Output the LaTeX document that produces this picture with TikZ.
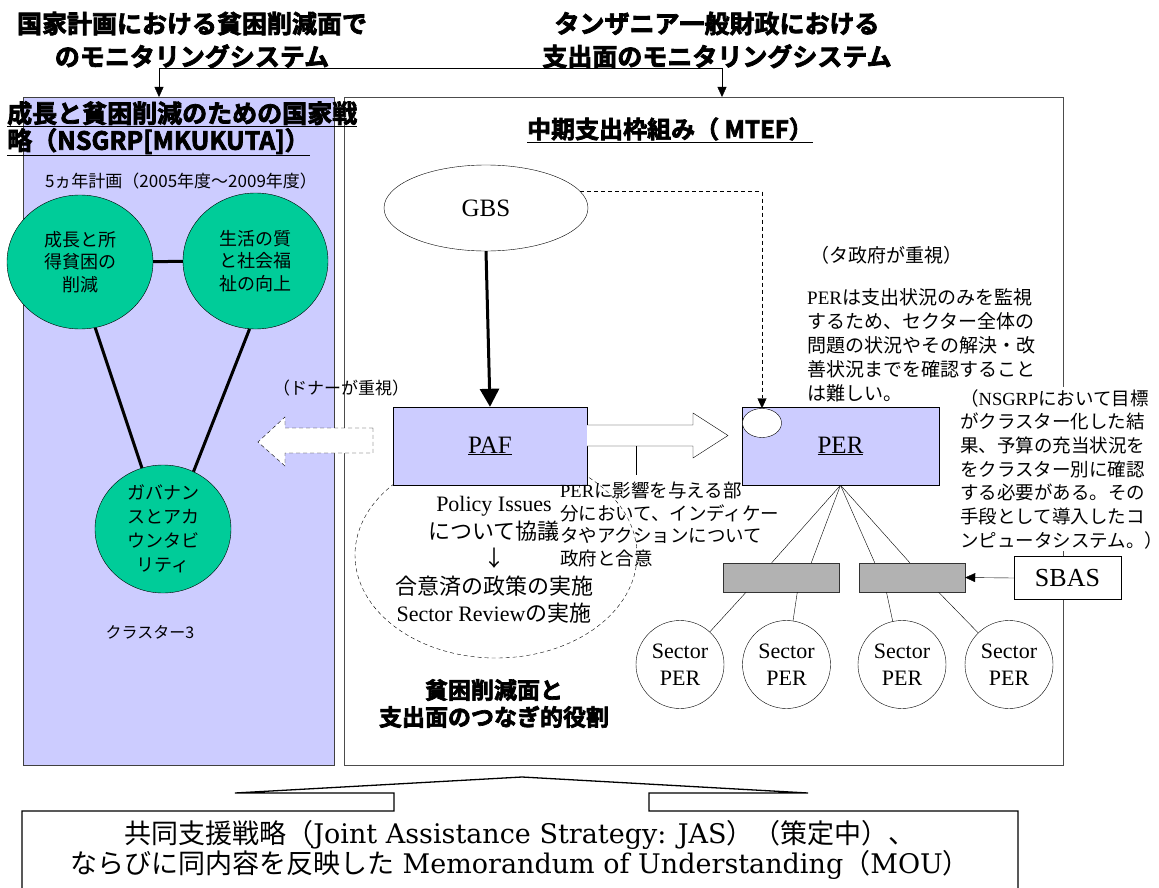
\documentclass[tikz,border=0pt]{standalone}
\usepackage{fontspec}
\newfontfamily\jp{Noto Sans CJK JP}
\newfontfamily\jpb{Noto Sans CJK JP Bold}[FakeBold=3]
\newfontfamily\tms{Liberation Serif}
\newfontfamily\dvs{DejaVu Serif}
\usetikzlibrary{arrows.meta,shapes.geometric,calc}
\definecolor{lav}{HTML}{CCCCFF}
\definecolor{cgreen}{HTML}{00CC99}
\definecolor{bgray}{HTML}{B2B2B2}
\newcommand\fsz[2]{\fontsize{#1}{#2}\selectfont}
\begin{document}
\begin{tikzpicture}[x=1pt,y=-1pt,
  tip/.style={-{Triangle[length=10pt,width=9pt]}},
  goal/.style={ellipse, draw=black, fill=cgreen, inner sep=0pt, align=center, font=\jp\fsz{18}{22.5}},
  box/.style={draw=black, inner sep=0pt},
  spc/.style={circle, draw=black, fill=white, minimum size=88pt, inner sep=0pt, align=center, font=\tms\fsz{22}{27}},
  bar/.style={draw=black!80, fill=bgray, minimum height=29pt, inner sep=0pt},
  dsh/.style={dash pattern=on 4pt off 3pt},
]
\fill[white] (0,0) rectangle (1159,888);
\useasboundingbox (0,0) rectangle (1159,888);

% titles
\node[font=\jpb\fsz{25}{33}, align=center, inner sep=0pt] (tl) at (192,40) {国家計画における貧困削減面で\\のモニタリングシステム};
\node[font=\jpb\fsz{25}{33}, align=center, inner sep=0pt] (tr) at (717,40) {タンザニア一般財政における\\支出面のモニタリングシステム};

% panels
\node[box, draw=black!75, fill=lav, minimum width=311pt, minimum height=668pt, anchor=north west] (lp) at (23,97) {};
\node[box, draw=black!70, line width=1pt, fill=white, minimum width=719pt, minimum height=668pt, anchor=north west] (mf) at (344,97) {};

\coordinate (jl) at (159,68);
\coordinate (jr) at (722,68);
\draw (jl) -- (jr);
\draw[tip] (jl) -- (jl |- lp.north);
\draw[tip] (jr) -- (jr |- mf.north);

% left panel content
\node[font=\jpb\fsz{25}{26}, align=left, inner sep=0pt, anchor=north west] (hd) at (7,101) {\underline{成長と貧困削減のための国家戦}\\\underline{略（NSGRP[MKUKUTA]）}};
\node[font=\jp\fsz{17}{20}, inner sep=0pt] (fy) at (181,181) {5ヵ年計画（2005年度～2009年度）};

\node[goal, minimum width=146pt, minimum height=134pt] (g1) at (80,262) {成長と所\\得貧困の\\削減};
\node[goal, minimum width=145pt, minimum height=136pt] (g2) at (255.5,261) {生活の質\\と社会福\\祉の向上};
\node[goal, minimum width=136pt, minimum height=128pt, font=\jp\fsz{18}{24}] (g3) at (163,529) {ガバナン\\スとアカ\\ウンタビ\\リティ};
\draw[line width=3pt] (g1) -- (g2);
\draw[line width=3pt] (g1.283) -- (g3.109);
\draw[line width=3pt] (g2.265) -- (g3.62);
\node[font=\jp\fsz{16}{19}, inner sep=0pt] (cl3) at (150,632) {クラスター3};

% MTEF
\node[font=\jpb\fsz{24}{26}, inner sep=0pt] (mt) at (670,130) {\underline{中期支出枠組み（ MTEF）}};
\node[ellipse, draw, minimum width=204pt, minimum height=86pt, inner sep=0pt, font=\tms\fsz{25}{28}] (gbs) at (486,208) {GBS};

\node[ellipse, draw, dsh, minimum width=282pt, minimum height=206pt, inner sep=0pt] (pol) at (496,555) {};

\node[box, fill=lav, minimum width=194pt, minimum height=78pt, font=\tms\fsz{25}{28}] (paf) at (490,446) {\underline{PAF}};
\node[box, fill=lav, minimum width=197pt, minimum height=78pt, font=\tms\fsz{25}{28}] (per) at (840.5,446) {\underline{PER}};
\node[ellipse, draw, fill=white, minimum width=39pt, minimum height=29pt, inner sep=0pt] (pe) at (762,423) {};

\draw[line width=3pt, -{Triangle[length=18pt,width=19pt]}] (gbs.south) -- (paf.north);
\draw[dsh, tip] (gbs.10) -| (pe.north);

% block arrow PAF -> PER
\draw[fill=white] ($(paf.east)+(0,-21)$) -- (693,425) -- (693,413) -- (728,435.5) -- (693,458) -- (693,446) -- (paf.east);
\coordinate (cs) at (636,446);
\coordinate (ce) at (636,475);
\draw (cs) -- (ce);
\node[font=\jp\fsz{18.5}{22.5}, align=left, inner sep=0pt, anchor=north west] (co) at (560,482) {{\tms PER}に影響を与える部\\分において、インディケー\\タやアクションについて\\政府と合意};

% dashed block arrow to the left
\draw[dsh, fill=white] (373,428) -- (285,428) -- (285,417) -- (258,442) -- (285,466) -- (285,453) -- (373,453) -- cycle;
\node[font=\jp\fsz{17}{20}, inner sep=0pt] (dn) at (341,388) {（ドナーが重視）};

\node[align=center, inner sep=0pt, font=\fsz{22}{27.5}] (ptx) at (494,560) {{\tms Policy Issues}\\{\jp について協議}\\{\jp ↓}\\{\jp 合意済の政策の実施}\\{\tms Sector Review}{\jp の実施}};

% PER notes
\node[font=\jp\fsz{19}{22}, inner sep=0pt, anchor=west] (tg) at (810,255) {（タ政府が重視）};
\node[font=\jp\fsz{19}{24}, align=left, inner sep=0pt, anchor=north west] (pnote) at (807,288) {{\tms PER}は支出状況のみを監視\\するため、セクター全体の\\問題の状況やその解決・改\\善状況までを確認すること\\は難しい。};
\node[font=\jp\fsz{18.5}{23.7}, align=left, fill=white, inner sep=2pt, anchor=north west] (ns) at (958,387) {（{\tms NSGRP}において目標\\がクラスター化した結\\果、予算の充当状況を\\をクラスター別に確認\\する必要がある。その\\手段として導入したコ\\ンピュータシステム。）};

% bars, SBAS, sector PERs
\node[bar, minimum width=116pt] (b1) at (781,577.5) {};
\node[bar, minimum width=106pt] (b2) at (912,577.5) {};
\node[box, fill=white, minimum width=107pt, minimum height=43pt, font=\tms\fsz{26}{28}] (sb) at (1067.5,578) {SBAS};
\draw[tip] (sb.west) -- (b2.east);

\draw (per.south) -- ($(b1.north west)!0.42!(b1.north east)$);
\draw (per.south) -- ($(b1.north west)!0.76!(b1.north east)$);
\draw (per.south) -- ($(b2.north west)!0.15!(b2.north east)$);
\draw (per.south) -- ($(b2.north west)!0.48!(b2.north east)$);

\node[spc] (s1) at (680,664.5) {Sector\\PER};
\node[spc] (s2) at (786.5,664.5) {Sector\\PER};
\node[spc] (s3) at (902,664.5) {Sector\\PER};
\node[spc] (s4) at (1009,664.5) {Sector\\PER};
\draw ($(b1.south west)!0.2!(b1.south east)$) -- (s1);
\draw ($(b1.south west)!0.64!(b1.south east)$) -- (s2);
\draw ($(b2.south west)!0.26!(b2.south east)$) -- (s3);
\draw ($(b2.south west)!0.75!(b2.south east)$) -- (s4);

\node[font=\jpb\fsz{23}{27}, align=center, inner sep=0pt] (brd) at (494,703.5) {貧困削減面と\\支出面のつなぎ的役割};

% bottom callout
\draw[line width=1.3pt, fill=white] (22,900) -- (22,811) -- (394,811) -- (394,793) -- (235,793) -- (522,777) -- (808,793) -- (649,793) -- (649,811) -- (1018,811) -- (1018,900);
\node[align=center, inner sep=0pt, font=\fsz{27}{30}] (jas) at (520,850) {{\jp 共同支援戦略（}{\dvs Joint Assistance Strategy: JAS}{\jp ）（策定中）、}\\{\jp ならびに同内容を反映した}{\dvs\ Memorandum of Understanding}{\jp （}{\dvs MOU}{\jp ）}};
\end{tikzpicture}
\end{document}
